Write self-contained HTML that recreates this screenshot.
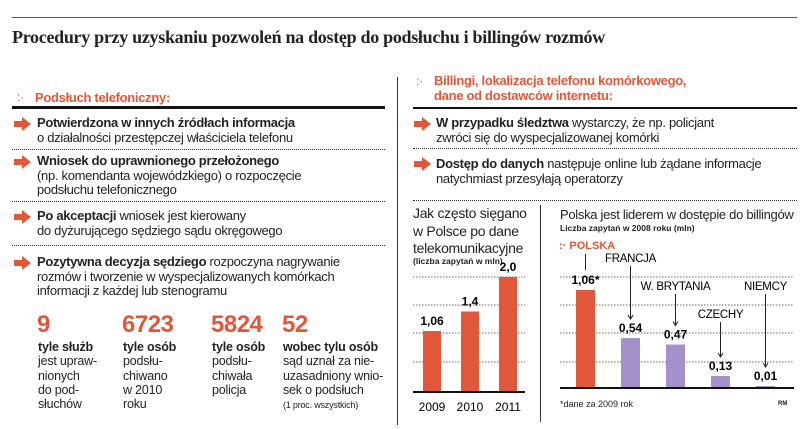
<!DOCTYPE html>
<html><head><meta charset="utf-8">
<style>
body{margin:0;background:#fff;}
#root{position:relative;width:805px;height:429px;overflow:hidden;background:#fff;font-family:"Liberation Sans","DejaVu Sans",sans-serif;color:#222;}
.a{position:absolute;white-space:nowrap;}
.t{font-size:13px;letter-spacing:-0.3px;line-height:14.5px;}
.red{color:#e0573a;}
.arrow{position:absolute;width:17px;height:14px;}
.dot{position:absolute;height:0;border-top:1px dotted #333;}
.num{font-size:24px;font-weight:bold;color:#e0573a;letter-spacing:-0.5px;}
.sl{font-size:12.5px;line-height:14.3px;letter-spacing:-0.2px;}
</style></head>
<body>
<div id="root">
<div class="a" style="left:12px;top:17px;width:785px;border-top:1px solid #555;"></div>
<div class="a" style="left:12px;top:27px;font-family:'Liberation Serif',serif;font-weight:bold;font-size:18px;letter-spacing:-0.3px;">Procedury przy uzyskaniu pozwoleń na dostęp do podsłuchu i billingów rozmów</div>

<!-- left column -->
<div class="a red" style="left:17px;top:90px;font-size:12px;">:·</div>
<div class="a red t" style="left:35px;top:91px;font-weight:bold;">Podsłuch telefoniczny:</div>
<div class="a" style="left:12px;top:106px;width:373px;border-top:3px solid #111;"></div>

<svg class="arrow" style="left:14px;top:117px" viewBox="0 0 17 14"><path d="M0 4h8V0l9 7-9 7v-4H0z" fill="#e0573a"/></svg>
<div class="a t" style="left:37px;top:116px;"><b>Potwierdzona w innych źródłach informacja</b><br>o działalności przestępczej właściciela telefonu</div>
<div class="dot" style="left:12px;top:149px;width:373px"></div>

<svg class="arrow" style="left:14px;top:155px" viewBox="0 0 17 14"><path d="M0 4h8V0l9 7-9 7v-4H0z" fill="#e0573a"/></svg>
<div class="a t" style="left:37px;top:154px;"><b>Wniosek do uprawnionego przełożonego</b><br>(np. komendanta wojewódzkiego) o rozpoczęcie<br>podsłuchu telefonicznego</div>
<div class="dot" style="left:12px;top:201px;width:373px"></div>

<svg class="arrow" style="left:14px;top:210px" viewBox="0 0 17 14"><path d="M0 4h8V0l9 7-9 7v-4H0z" fill="#e0573a"/></svg>
<div class="a t" style="left:37px;top:209px;"><b>Po akceptacji</b> wniosek jest kierowany<br>do dyżurującego sędziego sądu okręgowego</div>
<div class="dot" style="left:12px;top:245px;width:373px"></div>

<svg class="arrow" style="left:14px;top:256px" viewBox="0 0 17 14"><path d="M0 4h8V0l9 7-9 7v-4H0z" fill="#e0573a"/></svg>
<div class="a t" style="left:37px;top:255px;"><b>Pozytywna decyzja sędziego</b> rozpoczyna nagrywanie<br>rozmów i tworzenie w wyspecjalizowanych komórkach<br>informacji z każdej lub stenogramu</div>

<div class="a num" style="left:37px;top:311px">9</div>
<div class="a sl" style="left:38px;top:340px"><b>tyle służb</b><br>jest upraw-<br>nionych<br>do pod-<br>słuchów</div>
<div class="a num" style="left:122px;top:311px">6723</div>
<div class="a sl" style="left:123px;top:340px"><b>tyle osób</b><br>podsłu-<br>chiwano<br>w 2010<br>roku</div>
<div class="a num" style="left:211px;top:311px">5824</div>
<div class="a sl" style="left:212px;top:340px"><b>tyle osób</b><br>podsłu-<br>chiwała<br>policja</div>
<div class="a num" style="left:282px;top:311px">52</div>
<div class="a sl" style="left:283px;top:340px"><b>wobec tylu osób</b><br>sąd uznał za nie-<br>uzasadniony wnio-<br>sek o podsłuch<br><span style="font-size:9px">(1 proc. wszystkich)</span></div>

<div class="a" style="left:397px;top:77px;height:348px;border-left:1px solid #333;"></div>

<!-- right column -->
<div class="a red" style="left:416px;top:74px;font-size:12px;">:·</div>
<div class="a red t" style="left:434px;top:74px;font-weight:bold;line-height:14.5px">Billingi, lokalizacja telefonu komórkowego,<br>dane od dostawców internetu:</div>
<div class="a" style="left:413px;top:107px;width:384px;border-top:2px solid #111;"></div>
<svg class="arrow" style="left:414px;top:117px" viewBox="0 0 17 14"><path d="M0 4h8V0l9 7-9 7v-4H0z" fill="#e0573a"/></svg>
<div class="a t" style="left:436px;top:116px;"><b>W przypadku śledztwa</b> wystarczy, że np. policjant<br>zwróci się do wyspecjalizowanej komórki</div>
<div class="dot" style="left:413px;top:148px;width:384px"></div>
<svg class="arrow" style="left:414px;top:157px" viewBox="0 0 17 14"><path d="M0 4h8V0l9 7-9 7v-4H0z" fill="#e0573a"/></svg>
<div class="a t" style="left:436px;top:157px;"><b>Dostęp do danych</b> następuje online lub żądane informacje<br>natychmiast przesyłają operatorzy</div>
<div class="dot" style="left:413px;top:200px;width:384px"></div>

<div class="a" style="left:413px;top:205px;font-size:14px;line-height:17.5px;letter-spacing:-0.3px">Jak często sięgano<br>w Polsce po dane<br>telekomunikacyjne</div>
<div class="a" style="left:413px;top:256px;font-size:8.5px;font-weight:bold">(liczba zapytań w mln)</div>
<div class="a" style="left:540px;top:205px;height:217px;border-left:1px solid #333;"></div>

<div class="a" style="left:560px;top:207px;font-size:13px;letter-spacing:-0.3px">Polska jest liderem w dostępie do billingów</div>
<div class="a" style="left:560px;top:223px;font-size:8.5px;font-weight:bold">Liczba zapytań w 2008 roku (mln)</div>
<div class="a red" style="left:559px;top:240px;font-size:11px;font-weight:bold">:· POLSKA</div>
<div class="a" style="left:560px;top:399px;font-size:9px;">*dane za 2009 rok</div>
<div class="a" style="left:778px;top:401px;font-size:6px;font-weight:bold">RM</div>

<svg id="charts" class="a" style="left:0;top:0" width="805" height="429"></svg>
</div>
<script>
const yearCats = ["2009","2010","2011"];
const yearVals = [1.06,1.4,2.0];
const yearLabels = ["1,06","1,4","2,0"];
const countryCats = ["POLSKA","FRANCJA","W. BRYTANIA","CZECHY","NIEMCY"];
const countryVals = [1.06,0.54,0.47,0.13,0.01];
const countryLabels = ["1,06*","0,54","0,47","0,13","0,01"];

const NS="http://www.w3.org/2000/svg";
const svg=document.getElementById('charts');
function mk(tag,attrs,txt){const e=document.createElementNS(NS,tag);for(const k in attrs)e.setAttribute(k,attrs[k]);if(txt!=null)e.textContent=txt;svg.appendChild(e);return e;}
const RED="#e0573a", PUR="#a591c9";
const gridYs=[277,305,333,362];

// left chart
const lBase=392, lScale=57.5;
const ly=v=>lBase-v*lScale;
const lx=i=>423+i*38;
gridYs.forEach(g=>{const l=mk('line',{x1:413,x2:525,y1:g,y2:g,stroke:'#666','stroke-dasharray':'1.5 1.5'});

});
yearVals.forEach((v,i)=>{
 const r=mk('rect',{x:lx(i),y:ly(v),width:18,height:lBase-ly(v),fill:RED});
 
 
 const t=mk('text',{x:lx(i)+9,y:ly(v)-6,'text-anchor':'middle','font-size':12,'font-weight':'bold','font-family':'Liberation Sans'},yearLabels[i]);
 
 
 const c=mk('text',{x:lx(i)+9,y:411,'text-anchor':'middle','font-size':12,'font-family':'Liberation Sans'},yearCats[i]);
 
 
});
const lb=mk('line',{x1:413,x2:525,y1:lBase,y2:lBase,stroke:'#111','stroke-width':2});



// right chart
const rBase=388, rScale=92.5;
const ry=v=>rBase-v*rScale;
const rx=i=>576+i*45;
gridYs.forEach(g=>{const l=mk('line',{x1:560,x2:794,y1:g,y2:g,stroke:'#666','stroke-dasharray':'1.5 1.5'});

});
const nameY=[0,262,290,318,290];
countryVals.forEach((v,i)=>{
 const top=Math.min(ry(v),rBase-2);
 const r=mk('rect',{x:rx(i),y:top,width:19,height:rBase-top,fill:i===0?RED:PUR});
 
 
 const valY=top-6;
 const t=mk('text',{x:rx(i)+9.5,y:valY,'text-anchor':'middle','font-size':12,'font-weight':'bold','font-family':'Liberation Sans'},countryLabels[i]);
 
 
 const ax=rx(i)+9.5;
 if(i===0){
  const a=mk('line',{x1:ax,x2:ax,y1:254,y2:valY-14,stroke:'#222'});
  
  
 } else {
  const n=mk('text',{x:ax,y:nameY[i],'text-anchor':'middle','font-size':11.5,'font-family':'Liberation Sans','letter-spacing':'-0.3'},countryCats[i]);
  
  
  const a=mk('line',{x1:ax,x2:ax,y1:nameY[i]+4,y2:valY-14,stroke:'#222'});
  
  
  const h=mk('path',{d:`M${ax-2.5} ${valY-17}L${ax} ${valY-13}L${ax+2.5} ${valY-17}`,fill:'none',stroke:'#222'});
  
  
 }
});
const rb=mk('line',{x1:560,x2:794,y1:rBase,y2:rBase,stroke:'#111','stroke-width':2});


</script>
</body></html>
